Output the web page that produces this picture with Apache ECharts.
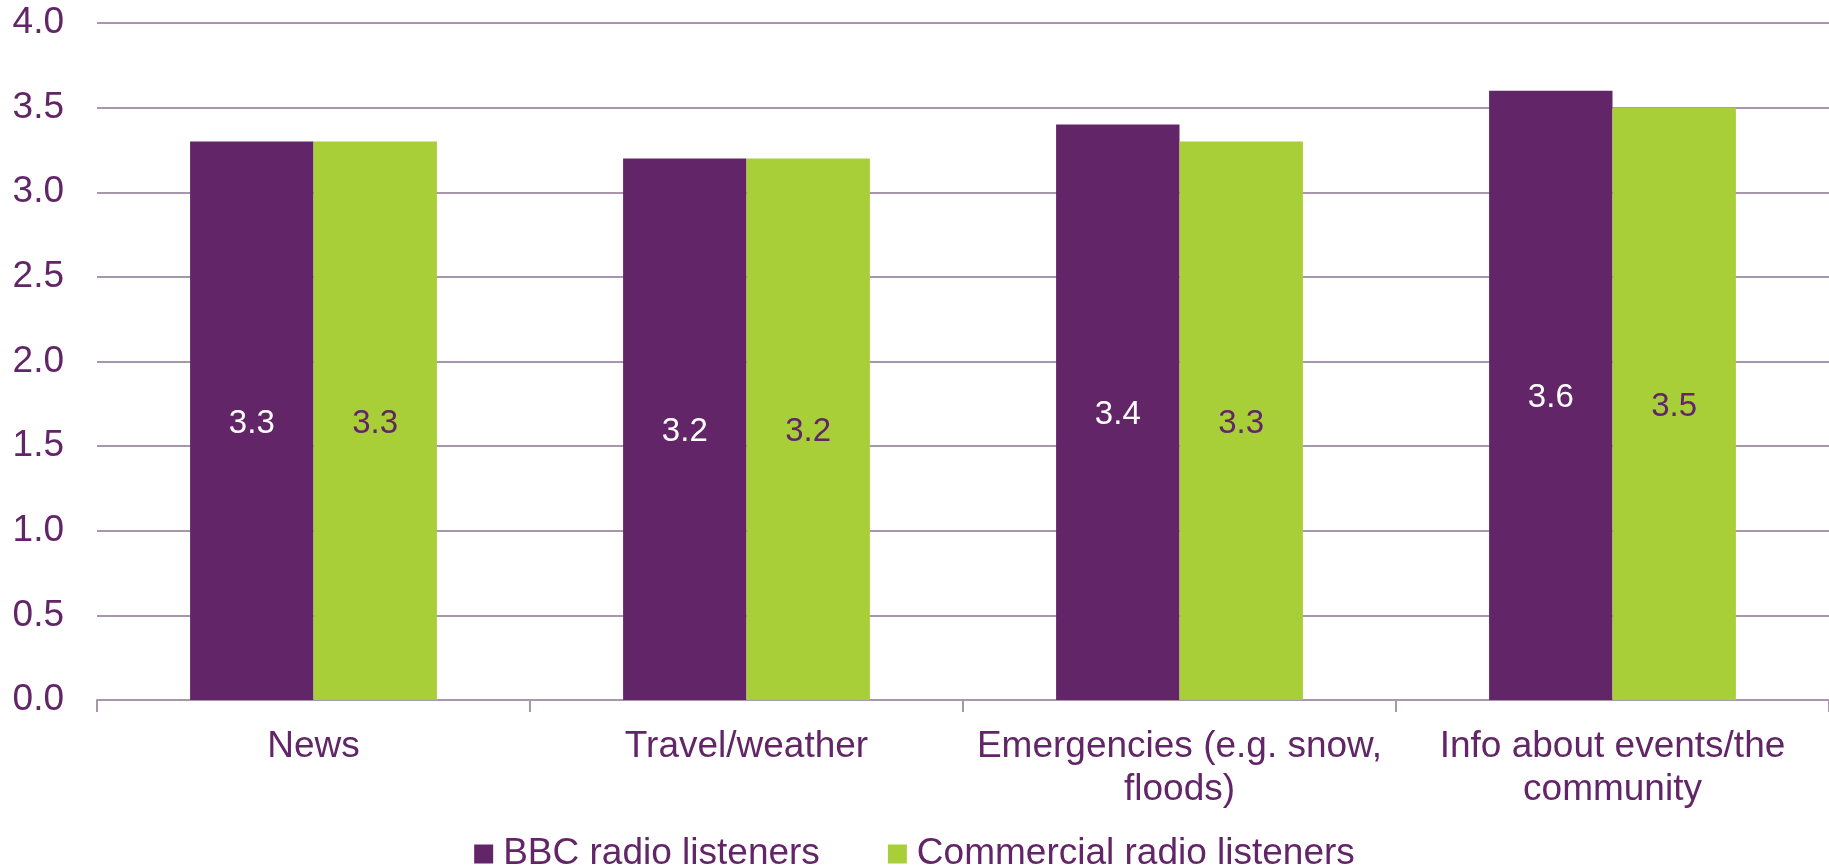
<!DOCTYPE html>
<html>
<head>
<meta charset="utf-8">
<script src="https://cdn.jsdelivr.net/npm/echarts@6/dist/echarts.min.js"></script>
<style>
html,body{margin:0;padding:0;background:#fff;}
#chart{width:1829px;height:868px;}
</style>
</head>
<body>
<div id="chart"></div>
<script>
const categories = ['News', 'Travel/weather', 'Emergencies (e.g. snow,\nfloods)', 'Info about events/the\ncommunity'];
const seriesNames = ['BBC radio listeners', 'Commercial radio listeners'];
const bbcValues = [3.3, 3.2, 3.4, 3.6];
const commercialValues = [3.3, 3.2, 3.3, 3.5];

const PURPLE = '#622567';
const GREEN = '#A8CF38';
const GRID = '#A897AC';
const FONT = '"Liberation Sans", Arial, sans-serif';

const chart = echarts.init(document.getElementById('chart'));
chart.setOption({
  animation: false,
  textStyle: { fontFamily: FONT },
  grid: { left: 97, right: 0, top: 23, bottom: 168, containLabel: false },
  legend: {
    top: 829,
    left: 'center',
    itemWidth: 19,
    itemHeight: 19,
    itemGap: 68,
    icon: 'rect',
    textStyle: { color: PURPLE, fontSize: 37, lineHeight: 40, fontFamily: FONT, padding: [0, 0, 0, 5] },
    data: seriesNames
  },
  xAxis: {
    type: 'category',
    data: categories,
    axisLine: { show: true, lineStyle: { color: GRID, width: 2 } },
    axisTick: { show: true, length: 12, lineStyle: { color: GRID, width: 2 } },
    axisLabel: { color: PURPLE, fontSize: 37, fontFamily: FONT, margin: 25, lineHeight: 43, interval: 0 }
  },
  yAxis: {
    type: 'value',
    min: 0,
    max: 4,
    interval: 0.5,
    axisLine: { show: false },
    axisTick: { show: false },
    splitLine: { show: true, lineStyle: { color: GRID, width: 2 } },
    axisLabel: { color: PURPLE, fontSize: 37, fontFamily: FONT, margin: 33, formatter: v => v.toFixed(1) }
  },
  series: [
    {
      name: seriesNames[0],
      type: 'bar',
      data: bbcValues,
      barGap: '0%',
      barCategoryGap: '43%',
      itemStyle: { color: PURPLE },
      label: { show: true, position: 'inside', offset: [0, 3], color: '#ffffff', fontSize: 33, fontFamily: FONT, formatter: p => p.value.toFixed(1) }
    },
    {
      name: seriesNames[1],
      type: 'bar',
      data: commercialValues,
      barGap: '0%',
      barCategoryGap: '43%',
      itemStyle: { color: GREEN },
      label: { show: true, position: 'inside', offset: [0, 3], color: PURPLE, fontSize: 33, fontFamily: FONT, formatter: p => p.value.toFixed(1) }
    }
  ]
});
</script>
</body>
</html>
